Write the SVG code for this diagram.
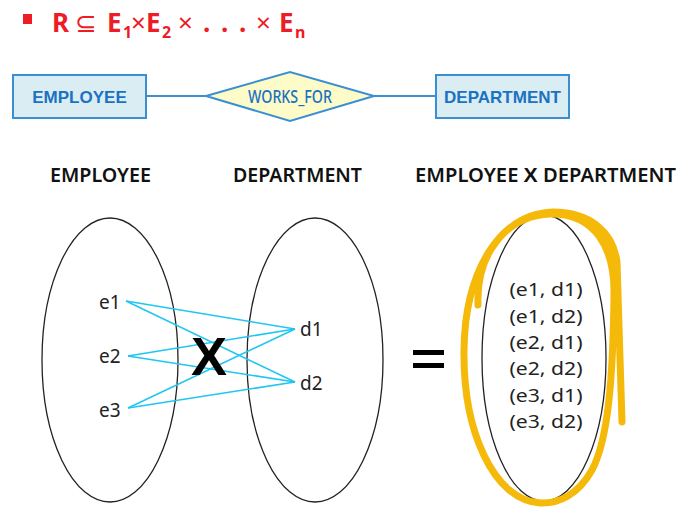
<svg xmlns="http://www.w3.org/2000/svg" width="681" height="517" viewBox="0 0 681 517">
<style>
.title{font-family:"Noto Sans","Open Sans",sans-serif;font-weight:bold;fill:#ee1c25}
.op{font-weight:normal}
.sub{font-size:16px}
.erbox{fill:#daedf2;stroke:#3a8fd3;stroke-width:2}
.ertxt{font-family:"Liberation Sans",Arial,sans-serif;font-weight:bold;font-size:17px;fill:#1b72c0;text-anchor:middle}
.dia{fill:#fdfbc8;stroke:#3a8fd3;stroke-width:2}
.diatxt{font-family:"Noto Sans","Open Sans",sans-serif;font-weight:500;font-size:18px;fill:#1b72c0;text-anchor:middle}
.hdr{font-family:"Noto Sans","Open Sans",sans-serif;font-weight:600;font-size:19px;fill:#111}
.set{fill:none;stroke:#222;stroke-width:1.3}
.lbl{font-family:"Noto Sans","Open Sans",sans-serif;font-size:19px;fill:#222}
.pair{font-family:"Noto Sans","Open Sans",sans-serif;font-size:18px;fill:#222;text-anchor:middle}
.conn{stroke:#1fc6f2;stroke-width:1.5;fill:none}
.erl{stroke:#3a8fd3;stroke-width:2}
</style>
<g id="title">
<rect x="23" y="14" width="9" height="10" fill="#ee1c25"/>
<text class="title" y="32" font-size="26"><tspan x="52">R</tspan><tspan class="op" x="75">⊆</tspan><tspan x="107">E</tspan><tspan class="sub" x="123" dy="6">1</tspan><tspan class="op" x="131" dy="-6">×</tspan><tspan x="146">E</tspan><tspan class="sub" x="162" dy="6">2</tspan><tspan class="op" x="178" dy="-6">×</tspan><tspan x="203">.</tspan><tspan x="221">.</tspan><tspan x="239">.</tspan><tspan class="op" x="256">×</tspan><tspan x="279">E</tspan><tspan class="sub" x="295" dy="6">n</tspan></text>
</g>
<g id="er-connectors">
<line class="erl" x1="146" y1="96" x2="206" y2="96"/>
<line class="erl" x1="374" y1="96" x2="436" y2="96"/>
</g>
<g id="er-employee">
<rect class="erbox" x="13" y="75" width="133" height="43"/>
<text class="ertxt" x="79.5" y="102.5">EMPLOYEE</text>
</g>
<g id="er-works-for">
<polygon class="dia" points="206,96 290,72 374,96 290,121"/>
<text class="diatxt" x="290" y="102.5" textLength="84" lengthAdjust="spacingAndGlyphs">WORKS_FOR</text>
</g>
<g id="er-department">
<rect class="erbox" x="436" y="75" width="133" height="43"/>
<text class="ertxt" x="502.5" y="102.5">DEPARTMENT</text>
</g>
<g id="headers">
<text class="hdr" x="50" y="182" textLength="101" lengthAdjust="spacingAndGlyphs">EMPLOYEE</text>
<text class="hdr" x="233" y="182" textLength="129" lengthAdjust="spacingAndGlyphs">DEPARTMENT</text>
<text class="hdr" x="415" y="182" textLength="261" lengthAdjust="spacingAndGlyphs">EMPLOYEE <tspan font-weight="bold" font-family="Liberation Sans, sans-serif" font-size="20">X</tspan> DEPARTMENT</text>
</g>
<g id="employee-set">
<ellipse class="set" cx="110" cy="360" rx="68" ry="142"/>
<text class="lbl" x="99" y="309">e1</text>
<text class="lbl" x="99" y="363">e2</text>
<text class="lbl" x="99" y="417">e3</text>
</g>
<g id="department-set">
<ellipse class="set" cx="315" cy="360" rx="68" ry="142"/>
<text class="lbl" x="300" y="336">d1</text>
<text class="lbl" x="300" y="390">d2</text>
</g>
<g id="connectors">
<line class="conn" x1="126" y1="301" x2="295" y2="329"/>
<line class="conn" x1="126" y1="301" x2="295" y2="382"/>
<line class="conn" x1="128" y1="356" x2="295" y2="329"/>
<line class="conn" x1="128" y1="356" x2="295" y2="382"/>
<line class="conn" x1="128" y1="408" x2="295" y2="329"/>
<line class="conn" x1="128" y1="408" x2="295" y2="382"/>
</g>
<g id="times">
<text x="209" y="375" font-family="Liberation Sans, sans-serif" font-weight="bold" font-size="54" text-anchor="middle" fill="#000">X</text>
</g>
<g id="equals">
<rect x="413" y="350" width="31" height="5" fill="#000"/>
<rect x="413" y="363" width="31" height="5" fill="#000"/>
</g>
<g id="product-set">
<ellipse class="set" cx="544" cy="358" rx="62" ry="143"/>
<text class="pair" x="546" y="296" textLength="73" lengthAdjust="spacingAndGlyphs">(e1, d1)</text>
<text class="pair" x="546" y="323" textLength="73" lengthAdjust="spacingAndGlyphs">(e1, d2)</text>
<text class="pair" x="546" y="349" textLength="73" lengthAdjust="spacingAndGlyphs">(e2, d1)</text>
<text class="pair" x="546" y="375" textLength="73" lengthAdjust="spacingAndGlyphs">(e2, d2)</text>
<text class="pair" x="546" y="402" textLength="73" lengthAdjust="spacingAndGlyphs">(e3, d1)</text>
<text class="pair" x="546" y="428" textLength="73" lengthAdjust="spacingAndGlyphs">(e3, d2)</text>
<path d="M 478 305 C 476 255 505 216 550 214 C 595 213 615 248 614 295 C 613 380 608 440 592 470 C 578 495 558 504 540 503 C 493 500 463 430 464 350 C 465 270 500 214 553 212 C 590 212 613 232 617 262 L 622 422" fill="none" stroke="#f5b90a" stroke-width="7" stroke-linecap="round" stroke-linejoin="round"/>
</g>
</svg>
